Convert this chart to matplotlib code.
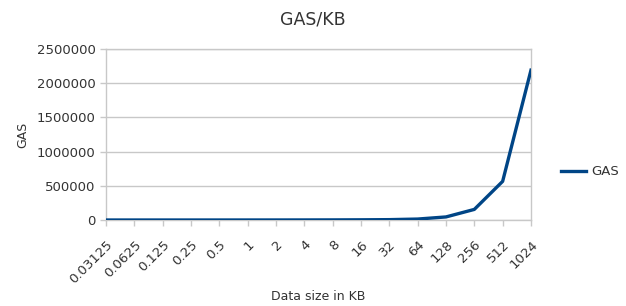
import matplotlib
matplotlib.use("Agg")
import matplotlib.pyplot as plt
from matplotlib.ticker import FuncFormatter
from matplotlib.transforms import ScaledTranslation

# data size categories (KB) and measured gas
sizes = ["0.03125", "0.0625", "0.125", "0.25", "0.5", "1", "2", "4",
         "8", "16", "32", "64", "128", "256", "512", "1024"]
gas = [150, 170, 200, 250, 330, 450, 650, 1000,
       1700, 3000, 5500, 14000, 45000, 155000, 565000, 2190000]

line_color = "#004586"
grid_color = "#c8c8c8"
text_color = "#333333"

fig = plt.figure(figsize=(6.26, 3.06), dpi=100)
ax = fig.add_axes([0.1693, 0.281, 0.6789, 0.559])

xs = list(range(len(sizes)))
line, = ax.plot(xs, gas, color=line_color, linewidth=2.4, label="GAS", zorder=3)

ax.set_xlim(0, len(sizes) - 1)
ax.set_ylim(0, 2500000)
ax.set_yticks(range(0, 2500001, 500000))
ax.yaxis.set_major_formatter(FuncFormatter(lambda v, p: "{:d}".format(int(v))))
ax.set_xticks(xs)
ax.set_xticklabels(sizes, rotation=45, ha="right", rotation_mode="anchor")
# nudge rotated labels a little left, like the original
shift = ScaledTranslation(-4 / 100, 0, fig.dpi_scale_trans)
for lbl in ax.get_xticklabels():
    lbl.set_transform(lbl.get_transform() + shift)

ax.grid(axis="y", color=grid_color, linewidth=1.0)
ax.set_axisbelow(True)
for s in ax.spines.values():
    s.set_color(grid_color)
    s.set_linewidth(1.0)
ax.tick_params(axis="both", colors=grid_color, labelcolor=text_color,
               labelsize=9.5, length=4, width=1.0)
ax.tick_params(axis="x", pad=9)

ax.set_xlabel("Data size in KB", fontsize=9, color=text_color, labelpad=3)
ax.set_ylabel("GAS", fontsize=9, color=text_color, labelpad=5)
fig.suptitle("GAS/KB", fontsize=12.5, color=text_color, y=0.965)

fig.legend(handles=[line], loc="center left", bbox_to_anchor=(0.888, 0.438),
           frameon=False, fontsize=9.5, handlelength=1.9, handletextpad=0.4,
           borderaxespad=0, labelcolor=text_color)

fig.savefig("out.png", dpi=100)
